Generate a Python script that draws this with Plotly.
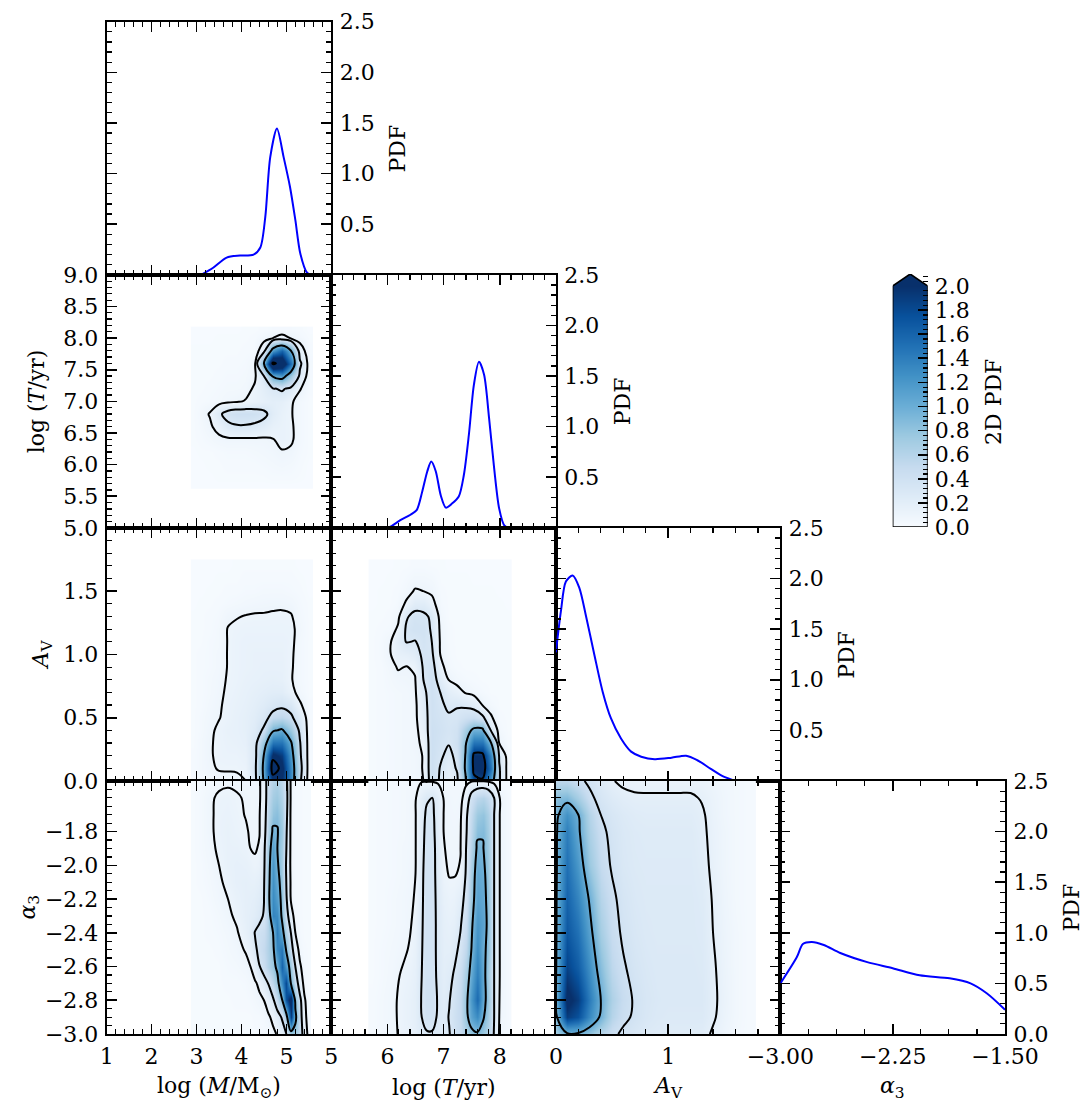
import plotly.graph_objects as go

W, H = 1091, 1106
FONT = "DejaVu Serif"

# ---------------- 1D marginal PDFs ----------------
LOGM_PDF_X = [3.10, 3.37, 3.67, 3.97, 4.27, 4.42, 4.53, 4.64, 4.79, 4.94, 5.08, 5.20, 5.31, 5.46, 5.55]
LOGM_PDF_Y = [0.0, 0.07, 0.17, 0.19, 0.20, 0.27, 0.57, 1.16, 1.445, 1.16, 0.87, 0.54, 0.21, 0.02, 0.0]

LOGT_PDF_X = [5.85, 6.02, 6.23, 6.41, 6.52, 6.62, 6.71, 6.78, 6.86, 6.95, 7.04, 7.15, 7.27, 7.36,
              7.45, 7.54, 7.63, 7.72, 7.81, 7.90, 7.99, 8.08, 8.17]
LOGT_PDF_Y = [0.0, 0.003, 0.076, 0.13, 0.175, 0.36, 0.56, 0.655, 0.56, 0.32, 0.20, 0.24, 0.31, 0.52,
              0.92, 1.415, 1.64, 1.515, 1.085, 0.59, 0.19, 0.026, 0.0]

AV_PDF_X = [0.0, 0.045, 0.089, 0.149, 0.208, 0.268, 0.342, 0.417, 0.49, 0.58, 0.67, 0.76, 0.88,
            1.03, 1.16, 1.26, 1.38, 1.50, 1.62, 1.78]
AV_PDF_Y = [1.27, 1.68, 1.97, 2.03, 1.91, 1.63, 1.25, 0.88, 0.62, 0.42, 0.29, 0.24, 0.215,
            0.23, 0.25, 0.205, 0.12, 0.04, 0.0, 0.0]

ALPHA_PDF_X = [-3.0, -2.89, -2.85, -2.79, -2.71, -2.60, -2.42, -2.25, -2.07, -1.87, -1.73, -1.62, -1.5]
ALPHA_PDF_Y = [0.50, 0.76, 0.89, 0.91, 0.88, 0.80, 0.71, 0.65, 0.58, 0.55, 0.50, 0.40, 0.24]

# ---------------- 2D PDF grids ----------------
# logT vs logM
MT_X = [2.95, 3.1, 3.3, 3.5, 3.7, 3.9, 4.1, 4.3, 4.5, 4.7, 4.9, 5.1, 5.3, 5.5]
MT_Y = [5.68, 5.8, 6.0, 6.2, 6.4, 6.6, 6.8, 7.0, 7.2, 7.4, 7.6, 7.8, 8.0, 8.12]
MT_Z = [
    [0.01, 0.01, 0.01, 0.01, 0.01, 0.01, 0.01, 0.01, 0.01, 0.01, 0.01, 0.01, 0.01, 0.01],
    [0.01, 0.01, 0.01, 0.02, 0.02, 0.02, 0.02, 0.02, 0.02, 0.03, 0.03, 0.03, 0.02, 0.01],
    [0.01, 0.01, 0.02, 0.02, 0.03, 0.03, 0.03, 0.03, 0.04, 0.05, 0.06, 0.05, 0.03, 0.01],
    [0.01, 0.02, 0.02, 0.03, 0.04, 0.04, 0.04, 0.05, 0.06, 0.07, 0.09, 0.08, 0.04, 0.02],
    [0.02, 0.03, 0.05, 0.07, 0.08, 0.08, 0.08, 0.08, 0.08, 0.095, 0.14, 0.12, 0.05, 0.02],
    [0.02, 0.04, 0.08, 0.15, 0.25, 0.28, 0.28, 0.26, 0.22, 0.16, 0.14, 0.12, 0.05, 0.02],
    [0.02, 0.05, 0.11, 0.26, 0.38, 0.42, 0.42, 0.40, 0.35, 0.22, 0.15, 0.11, 0.05, 0.02],
    [0.02, 0.03, 0.04, 0.05, 0.07, 0.085, 0.11, 0.14, 0.17, 0.20, 0.18, 0.12, 0.05, 0.02],
    [0.02, 0.02, 0.03, 0.04, 0.05, 0.05, 0.06, 0.12, 0.20, 0.28, 0.33, 0.25, 0.11, 0.03],
    [0.02, 0.02, 0.02, 0.03, 0.04, 0.04, 0.05, 0.08, 0.30, 1.05, 1.20, 0.75, 0.25, 0.04],
    [0.02, 0.02, 0.02, 0.02, 0.03, 0.03, 0.04, 0.07, 1.00, 2.70, 2.40, 1.50, 0.35, 0.05],
    [0.02, 0.02, 0.02, 0.02, 0.02, 0.02, 0.03, 0.03, 0.20, 1.20, 1.60, 1.00, 0.18, 0.03],
    [0.01, 0.01, 0.01, 0.02, 0.02, 0.02, 0.02, 0.03, 0.06, 0.10, 0.15, 0.09, 0.05, 0.02],
    [0.01, 0.01, 0.01, 0.01, 0.01, 0.01, 0.02, 0.02, 0.03, 0.04, 0.04, 0.04, 0.03, 0.01],
]
MT_LEVELS = [0.1, 0.3, 1.0, 2.6]

# A_V vs logM
MA_X = [2.95, 3.1, 3.3, 3.5, 3.7, 3.9, 4.1, 4.3, 4.5, 4.7, 4.9, 5.1, 5.3, 5.5]
MA_Y = [0.0, 0.1, 0.2, 0.3, 0.4, 0.5, 0.6, 0.7, 0.8, 0.9, 1.0, 1.1, 1.2, 1.3, 1.4, 1.5, 1.6, 1.7]
MA_Z = [
    [0.02, 0.03, 0.05, 0.06, 0.07, 0.08, 0.10, 0.30, 1.05, 2.00, 2.00, 1.30, 0.45, 0.02],
    [0.03, 0.05, 0.08, 0.11, 0.11, 0.11, 0.13, 0.32, 1.10, 2.40, 2.10, 1.30, 0.50, 0.03],
    [0.03, 0.05, 0.09, 0.12, 0.13, 0.13, 0.15, 0.30, 1.02, 2.10, 1.90, 1.20, 0.45, 0.03],
    [0.02, 0.05, 0.09, 0.12, 0.14, 0.15, 0.17, 0.30, 0.80, 1.50, 1.50, 1.05, 0.42, 0.03],
    [0.02, 0.04, 0.08, 0.12, 0.15, 0.16, 0.18, 0.25, 0.45, 0.95, 1.05, 0.75, 0.35, 0.03],
    [0.02, 0.04, 0.07, 0.095, 0.13, 0.16, 0.18, 0.22, 0.30, 0.50, 0.55, 0.45, 0.25, 0.03],
    [0.02, 0.03, 0.06, 0.085, 0.13, 0.15, 0.17, 0.20, 0.24, 0.30, 0.35, 0.30, 0.12, 0.03],
    [0.02, 0.03, 0.05, 0.075, 0.12, 0.14, 0.16, 0.18, 0.20, 0.22, 0.22, 0.14, 0.06, 0.02],
    [0.02, 0.03, 0.05, 0.07, 0.11, 0.13, 0.15, 0.16, 0.17, 0.18, 0.17, 0.11, 0.05, 0.02],
    [0.02, 0.03, 0.04, 0.06, 0.105, 0.13, 0.14, 0.15, 0.16, 0.16, 0.16, 0.115, 0.05, 0.02],
    [0.02, 0.03, 0.04, 0.06, 0.105, 0.13, 0.14, 0.15, 0.15, 0.15, 0.15, 0.12, 0.05, 0.02],
    [0.02, 0.02, 0.04, 0.05, 0.105, 0.13, 0.14, 0.14, 0.14, 0.14, 0.14, 0.13, 0.05, 0.02],
    [0.02, 0.02, 0.03, 0.05, 0.105, 0.12, 0.13, 0.13, 0.13, 0.13, 0.13, 0.13, 0.06, 0.02],
    [0.02, 0.02, 0.03, 0.04, 0.08, 0.095, 0.105, 0.11, 0.11, 0.115, 0.12, 0.11, 0.05, 0.02],
    [0.01, 0.02, 0.02, 0.03, 0.04, 0.05, 0.06, 0.07, 0.075, 0.08, 0.08, 0.07, 0.04, 0.02],
    [0.01, 0.01, 0.02, 0.02, 0.03, 0.03, 0.04, 0.04, 0.05, 0.05, 0.05, 0.04, 0.03, 0.01],
    [0.01, 0.01, 0.01, 0.02, 0.02, 0.02, 0.03, 0.03, 0.03, 0.03, 0.03, 0.03, 0.02, 0.01],
    [0.01, 0.01, 0.01, 0.01, 0.01, 0.02, 0.02, 0.02, 0.02, 0.02, 0.02, 0.02, 0.01, 0.01],
]
MA_LEVELS = [0.1, 0.4, 1.0, 2.2]

# A_V vs logT
TA_X = [5.74, 5.89, 6.04, 6.19, 6.34, 6.49, 6.64, 6.79, 6.94, 7.09, 7.24, 7.39, 7.54, 7.69, 7.84, 7.99, 8.14]
TA_Y = [0.0, 0.1, 0.2, 0.3, 0.4, 0.5, 0.6, 0.7, 0.8, 0.9, 1.0, 1.1, 1.2, 1.3, 1.4, 1.5, 1.6, 1.7]
TA_Z = [
    [0.02, 0.03, 0.04, 0.05, 0.06, 0.07, 0.10, 0.40, 0.28, 0.18, 0.25, 0.85, 1.80, 1.85, 1.20, 0.32, 0.06],
    [0.02, 0.03, 0.04, 0.05, 0.06, 0.07, 0.105, 0.42, 0.29, 0.20, 0.32, 0.95, 2.00, 2.10, 1.50, 0.32, 0.06],
    [0.02, 0.03, 0.04, 0.05, 0.06, 0.07, 0.105, 0.42, 0.33, 0.25, 0.35, 0.92, 2.00, 2.00, 1.35, 0.28, 0.05],
    [0.02, 0.03, 0.04, 0.05, 0.06, 0.075, 0.12, 0.42, 0.36, 0.31, 0.40, 0.85, 1.50, 1.50, 0.95, 0.10, 0.03],
    [0.02, 0.03, 0.04, 0.05, 0.06, 0.06, 0.17, 0.42, 0.38, 0.34, 0.38, 0.70, 1.00, 1.00, 0.30, 0.05, 0.02],
    [0.02, 0.03, 0.04, 0.05, 0.06, 0.07, 0.20, 0.40, 0.36, 0.32, 0.33, 0.40, 0.45, 0.35, 0.12, 0.03, 0.02],
    [0.02, 0.03, 0.04, 0.05, 0.06, 0.07, 0.22, 0.40, 0.33, 0.27, 0.29, 0.27, 0.22, 0.10, 0.05, 0.02, 0.02],
    [0.02, 0.03, 0.04, 0.05, 0.06, 0.08, 0.25, 0.40, 0.30, 0.20, 0.15, 0.09, 0.06, 0.04, 0.02, 0.02, 0.02],
    [0.02, 0.03, 0.05, 0.07, 0.08, 0.09, 0.30, 0.40, 0.22, 0.10, 0.06, 0.04, 0.03, 0.02, 0.02, 0.02, 0.02],
    [0.02, 0.03, 0.06, 0.11, 0.095, 0.12, 0.32, 0.38, 0.14, 0.05, 0.03, 0.02, 0.02, 0.02, 0.02, 0.02, 0.02],
    [0.02, 0.04, 0.09, 0.16, 0.18, 0.22, 0.34, 0.33, 0.10, 0.04, 0.02, 0.02, 0.02, 0.02, 0.02, 0.02, 0.02],
    [0.02, 0.04, 0.08, 0.20, 0.31, 0.29, 0.36, 0.30, 0.09, 0.03, 0.02, 0.02, 0.02, 0.02, 0.02, 0.02, 0.02],
    [0.02, 0.03, 0.04, 0.12, 0.33, 0.38, 0.38, 0.28, 0.08, 0.03, 0.02, 0.02, 0.02, 0.02, 0.02, 0.02, 0.02],
    [0.02, 0.02, 0.03, 0.07, 0.28, 0.36, 0.34, 0.27, 0.06, 0.02, 0.02, 0.02, 0.02, 0.02, 0.02, 0.02, 0.02],
    [0.01, 0.02, 0.02, 0.04, 0.12, 0.22, 0.22, 0.14, 0.04, 0.02, 0.02, 0.02, 0.02, 0.02, 0.02, 0.02, 0.01],
    [0.01, 0.02, 0.02, 0.03, 0.06, 0.11, 0.10, 0.08, 0.03, 0.02, 0.02, 0.02, 0.02, 0.02, 0.02, 0.01, 0.01],
    [0.01, 0.01, 0.02, 0.02, 0.04, 0.06, 0.06, 0.05, 0.02, 0.02, 0.02, 0.02, 0.01, 0.01, 0.01, 0.01, 0.01],
    [0.01, 0.01, 0.01, 0.02, 0.02, 0.03, 0.03, 0.02, 0.02, 0.01, 0.01, 0.01, 0.01, 0.01, 0.01, 0.01, 0.01],
]
TA_LEVELS = [0.1, 0.3, 0.9, 1.9]

# alpha3 vs logM
MS_X = [2.95, 3.1, 3.3, 3.5, 3.7, 3.9, 4.1, 4.2, 4.3, 4.4, 4.5, 4.6, 4.7, 4.8, 4.9, 5.0, 5.1, 5.2, 5.3, 5.4, 5.5]
MS_Y = [-3.0, -2.9, -2.8, -2.7, -2.6, -2.5, -2.4, -2.3, -2.2, -2.1, -2.0, -1.9, -1.8, -1.7, -1.6, -1.5]
MS_Z = [
    [0.02, 0.02, 0.02, 0.02, 0.02, 0.02, 0.02, 0.02, 0.02, 0.03, 0.03, 0.04, 0.07, 0.11, 0.20, 0.33, 0.70, 0.75, 0.50, 0.20, 0.05],
    [0.02, 0.02, 0.02, 0.02, 0.02, 0.02, 0.02, 0.02, 0.03, 0.03, 0.05, 0.08, 0.13, 0.22, 0.35, 0.70, 1.90, 1.00, 0.45, 0.15, 0.03],
    [0.02, 0.02, 0.02, 0.02, 0.02, 0.03, 0.03, 0.04, 0.05, 0.07, 0.10, 0.17, 0.28, 0.50, 0.85, 1.70, 2.20, 0.80, 0.40, 0.12, 0.03],
    [0.02, 0.02, 0.02, 0.02, 0.03, 0.03, 0.04, 0.06, 0.08, 0.13, 0.22, 0.34, 0.55, 0.75, 1.30, 1.80, 0.90, 0.50, 0.20, 0.06, 0.02],
    [0.02, 0.02, 0.02, 0.02, 0.04, 0.05, 0.07, 0.10, 0.18, 0.32, 0.45, 0.60, 0.75, 1.00, 1.60, 1.20, 0.70, 0.33, 0.12, 0.04, 0.02],
    [0.02, 0.02, 0.02, 0.03, 0.05, 0.07, 0.11, 0.18, 0.28, 0.40, 0.50, 0.62, 0.80, 1.30, 1.45, 0.85, 0.45, 0.18, 0.06, 0.03, 0.02],
    [0.02, 0.02, 0.03, 0.04, 0.06, 0.09, 0.16, 0.22, 0.34, 0.40, 0.45, 0.60, 0.88, 1.40, 1.05, 0.65, 0.33, 0.10, 0.04, 0.02, 0.02],
    [0.02, 0.02, 0.03, 0.05, 0.08, 0.12, 0.18, 0.20, 0.22, 0.27, 0.35, 0.60, 1.35, 1.30, 0.85, 0.45, 0.15, 0.06, 0.03, 0.02, 0.02],
    [0.02, 0.02, 0.04, 0.07, 0.10, 0.15, 0.18, 0.19, 0.20, 0.23, 0.32, 0.80, 1.30, 1.15, 0.80, 0.35, 0.09, 0.04, 0.03, 0.02, 0.02],
    [0.02, 0.03, 0.05, 0.08, 0.13, 0.17, 0.18, 0.17, 0.17, 0.19, 0.30, 0.78, 1.25, 1.05, 0.75, 0.32, 0.08, 0.04, 0.03, 0.02, 0.02],
    [0.02, 0.03, 0.06, 0.10, 0.15, 0.17, 0.16, 0.14, 0.12, 0.14, 0.27, 0.75, 1.20, 0.95, 0.70, 0.30, 0.07, 0.04, 0.03, 0.02, 0.02],
    [0.02, 0.04, 0.07, 0.12, 0.15, 0.15, 0.13, 0.10, 0.09, 0.11, 0.25, 0.70, 1.10, 0.90, 0.70, 0.33, 0.07, 0.04, 0.03, 0.02, 0.02],
    [0.02, 0.04, 0.08, 0.13, 0.15, 0.13, 0.11, 0.09, 0.085, 0.095, 0.20, 0.60, 0.95, 0.92, 0.75, 0.35, 0.07, 0.04, 0.03, 0.02, 0.02],
    [0.02, 0.04, 0.08, 0.13, 0.14, 0.12, 0.095, 0.085, 0.085, 0.095, 0.17, 0.55, 0.80, 0.85, 0.70, 0.38, 0.07, 0.04, 0.03, 0.02, 0.02],
    [0.02, 0.04, 0.08, 0.12, 0.13, 0.11, 0.09, 0.085, 0.085, 0.09, 0.15, 0.50, 0.70, 0.75, 0.62, 0.40, 0.08, 0.04, 0.03, 0.02, 0.02],
    [0.02, 0.03, 0.05, 0.07, 0.08, 0.08, 0.07, 0.07, 0.07, 0.08, 0.20, 0.45, 0.60, 0.65, 0.55, 0.38, 0.08, 0.04, 0.03, 0.02, 0.02],
]
MS_LEVELS = [0.1, 0.33, 0.9]

# alpha3 vs logT
TS_X = [5.74, 5.9, 6.1, 6.3, 6.4, 6.5, 6.6, 6.7, 6.8, 6.9, 7.0, 7.1, 7.2, 7.3, 7.4, 7.5, 7.6, 7.7, 7.8, 7.9, 8.0, 8.1, 8.17]
TS_Y = [-3.0, -2.9, -2.8, -2.65, -2.5, -2.35, -2.2, -2.05, -1.9, -1.8, -1.7, -1.6, -1.5]
TS_Z = [
    [0.03, 0.05, 0.08, 0.13, 0.15, 0.18, 0.24, 0.28, 0.28, 0.25, 0.24, 0.29, 0.38, 0.48, 0.65, 0.80, 0.85, 0.75, 0.60, 0.28, 0.07, 0.04, 0.03],
    [0.03, 0.05, 0.08, 0.14, 0.16, 0.19, 0.29, 0.38, 0.38, 0.27, 0.24, 0.31, 0.40, 0.50, 0.80, 1.10, 1.30, 0.95, 0.70, 0.30, 0.08, 0.05, 0.03],
    [0.03, 0.05, 0.08, 0.14, 0.16, 0.19, 0.30, 0.40, 0.40, 0.28, 0.22, 0.29, 0.38, 0.50, 0.80, 1.20, 1.55, 1.05, 0.75, 0.30, 0.09, 0.05, 0.03],
    [0.02, 0.04, 0.07, 0.12, 0.14, 0.17, 0.29, 0.38, 0.38, 0.26, 0.20, 0.24, 0.33, 0.45, 0.70, 1.05, 1.40, 1.05, 0.70, 0.30, 0.10, 0.05, 0.03],
    [0.02, 0.04, 0.06, 0.085, 0.11, 0.15, 0.28, 0.38, 0.38, 0.25, 0.19, 0.19, 0.25, 0.35, 0.55, 0.92, 1.30, 1.00, 0.80, 0.30, 0.10, 0.05, 0.03],
    [0.02, 0.03, 0.05, 0.07, 0.09, 0.13, 0.27, 0.38, 0.38, 0.25, 0.18, 0.16, 0.18, 0.28, 0.45, 0.85, 1.20, 1.10, 0.80, 0.30, 0.10, 0.05, 0.03],
    [0.02, 0.03, 0.05, 0.07, 0.08, 0.11, 0.26, 0.38, 0.38, 0.24, 0.16, 0.13, 0.14, 0.20, 0.38, 0.75, 1.10, 1.05, 0.78, 0.30, 0.10, 0.05, 0.03],
    [0.02, 0.03, 0.04, 0.06, 0.08, 0.10, 0.25, 0.38, 0.38, 0.22, 0.12, 0.095, 0.095, 0.11, 0.32, 0.70, 1.05, 1.00, 0.75, 0.30, 0.10, 0.05, 0.03],
    [0.02, 0.03, 0.04, 0.06, 0.07, 0.095, 0.24, 0.36, 0.37, 0.22, 0.105, 0.085, 0.08, 0.095, 0.30, 0.60, 0.95, 0.92, 0.72, 0.30, 0.10, 0.05, 0.03],
    [0.02, 0.03, 0.04, 0.05, 0.07, 0.095, 0.23, 0.35, 0.36, 0.20, 0.10, 0.08, 0.075, 0.09, 0.27, 0.55, 0.85, 0.88, 0.70, 0.30, 0.10, 0.05, 0.03],
    [0.02, 0.03, 0.04, 0.05, 0.07, 0.095, 0.22, 0.33, 0.34, 0.20, 0.10, 0.075, 0.07, 0.08, 0.25, 0.50, 0.75, 0.80, 0.65, 0.30, 0.10, 0.05, 0.03],
    [0.02, 0.03, 0.04, 0.05, 0.07, 0.09, 0.20, 0.28, 0.30, 0.20, 0.095, 0.07, 0.06, 0.07, 0.15, 0.40, 0.55, 0.60, 0.50, 0.30, 0.10, 0.05, 0.03],
    [0.02, 0.03, 0.04, 0.05, 0.06, 0.07, 0.09, 0.09, 0.09, 0.08, 0.06, 0.05, 0.05, 0.06, 0.08, 0.09, 0.09, 0.09, 0.08, 0.06, 0.04, 0.03, 0.02],
]
TS_LEVELS = [0.1, 0.3, 0.9]

# alpha3 vs A_V
AS_X = [0.0, 0.1, 0.2, 0.3, 0.4, 0.5, 0.6, 0.7, 0.8, 0.9, 1.0, 1.1, 1.2, 1.3, 1.4, 1.5, 1.6, 1.72]
AS_Y = [-3.0, -2.9, -2.8, -2.6, -2.4, -2.2, -2.0, -1.8, -1.7, -1.6, -1.5]
AS_Z = [
    [0.70, 0.95, 0.95, 0.80, 0.60, 0.45, 0.36, 0.31, 0.27, 0.25, 0.24, 0.24, 0.24, 0.23, 0.16, 0.10, 0.05, 0.03],
    [0.90, 1.90, 1.75, 1.30, 0.95, 0.60, 0.45, 0.37, 0.31, 0.28, 0.27, 0.27, 0.27, 0.27, 0.20, 0.12, 0.06, 0.03],
    [0.99, 2.10, 1.90, 1.40, 1.00, 0.65, 0.48, 0.38, 0.32, 0.29, 0.28, 0.28, 0.28, 0.28, 0.21, 0.13, 0.06, 0.03],
    [0.97, 1.85, 1.65, 1.25, 0.85, 0.55, 0.42, 0.34, 0.30, 0.28, 0.28, 0.28, 0.28, 0.27, 0.20, 0.12, 0.06, 0.03],
    [0.96, 1.70, 1.50, 1.10, 0.70, 0.48, 0.37, 0.31, 0.28, 0.27, 0.27, 0.27, 0.27, 0.26, 0.18, 0.11, 0.06, 0.03],
    [0.96, 1.60, 1.35, 0.97, 0.60, 0.44, 0.34, 0.29, 0.27, 0.27, 0.27, 0.27, 0.27, 0.25, 0.17, 0.10, 0.05, 0.03],
    [0.95, 1.50, 1.20, 0.75, 0.50, 0.38, 0.30, 0.27, 0.26, 0.26, 0.26, 0.26, 0.26, 0.23, 0.15, 0.09, 0.05, 0.03],
    [0.95, 1.40, 1.05, 0.65, 0.45, 0.35, 0.29, 0.26, 0.25, 0.25, 0.25, 0.25, 0.25, 0.21, 0.14, 0.09, 0.05, 0.03],
    [0.92, 1.25, 1.00, 0.60, 0.40, 0.32, 0.27, 0.24, 0.23, 0.23, 0.23, 0.23, 0.23, 0.20, 0.13, 0.08, 0.05, 0.03],
    [0.85, 0.90, 0.70, 0.45, 0.33, 0.26, 0.22, 0.20, 0.20, 0.20, 0.20, 0.20, 0.20, 0.17, 0.12, 0.08, 0.05, 0.03],
    [0.55, 0.55, 0.45, 0.36, 0.27, 0.19, 0.15, 0.14, 0.13, 0.13, 0.13, 0.13, 0.13, 0.12, 0.10, 0.07, 0.05, 0.03],
]
AS_LEVELS = [0.18, 0.4, 1.0]

# colour-bar end values
CBAR_VALUES = [0.0, 2.0]

# ---------------- ticks / labels ----------------
RANGES = {'M': [1, 6], 'T': [5, 9], 'A': [0, 2], 'a': [-3, -1.5], 'P': [0, 2.5]}
X_TICKS = {
    'M': ([1, 2, 3, 4, 5, 6], ['1', '2', '3', '4', '5', ''], 0.2, 1),
    'T': ([5, 6, 7, 8, 9], ['5', '6', '7', '8', ''], 0.2, 5),
    'A': ([0, 1, 2], ['0', '1', ''], 0.2, 0),
    'a': ([-3, -2.25, -1.5], ['\u22123.00', '\u22122.25', '\u22121.50'], 0.1875, -3),
}
Y_TICKS = {
    'T': ([5, 5.5, 6, 6.5, 7, 7.5, 8, 8.5, 9],
          ['5.0', '5.5', '6.0', '6.5', '7.0', '7.5', '8.0', '8.5', '9.0'], 0.1, 5),
    'A': ([0, 0.5, 1, 1.5, 2], ['0.0', '0.5', '1.0', '1.5', ''], 0.1, 0),
    'a': ([-3, -2.8, -2.6, -2.4, -2.2, -2.0, -1.8],
          ['\u22123.0', '\u22122.8', '\u22122.6', '\u22122.4', '\u22122.2', '\u22122.0', '\u22121.8'], 0.05, -3),
}
PDF_TICKVALS = [0, 0.5, 1, 1.5, 2, 2.5]
PDF_TEXT = ['', '0.5', '1.0', '1.5', '2.0', '2.5']
PDF_TEXT_LAST = ['0.0', '0.5', '1.0', '1.5', '2.0', '2.5']
CB_TICKVALS = [0, 0.2, 0.4, 0.6, 0.8, 1.0, 1.2, 1.4, 1.6, 1.8, 2.0]
CB_TEXT = ['0.0', '0.2', '0.4', '0.6', '0.8', '1.0', '1.2', '1.4', '1.6', '1.8', '2.0']

VARS = ['M', 'T', 'A', 'a']

BLUES = [[0.0, 'rgb(247,251,255)'], [0.125, 'rgb(222,235,247)'], [0.25, 'rgb(198,219,239)'],
         [0.375, 'rgb(158,202,225)'], [0.5, 'rgb(107,174,214)'], [0.625, 'rgb(66,146,198)'],
         [0.75, 'rgb(33,113,181)'], [0.875, 'rgb(8,81,156)'], [1.0, 'rgb(8,48,107)']]

# ---------------- layout geometry (pixels) ----------------
COL_PX = [(106.7, 331.3), (331.3, 555.9), (555.9, 780.4), (780.4, 1005.0)]
ROW_PX = [(21.7, 274.8), (274.8, 527.9), (527.9, 781.0), (781.0, 1034.0)]


def xd(c):
    return [COL_PX[c][0] / W, COL_PX[c][1] / W]


def yd(r):
    return [1 - ROW_PX[r][1] / H, 1 - ROW_PX[r][0] / H]


def axname(kind, i):
    return kind + ('' if i == 1 else str(i))


TICKFONT = dict(family=FONT, size=22, color='black')
COMMON = dict(showline=True, linecolor='black', linewidth=2, mirror='allticks', ticks='inside',
              ticklen=10, tickwidth=1.6, tickcolor='black', showgrid=False, zeroline=False,
              tickfont=TICKFONT, tickmode='array', fixedrange=True, automargin=False)
STANDOFF = 2


def minor(dt, t0):
    return dict(ticks='inside', ticklen=5, tickwidth=1.2, tickcolor='black', showgrid=False,
                tickmode='linear', dtick=dt, tick0=t0)


fig = go.Figure()
layout = {}

PANELS = []  # (idx, r, c)
idx = 0
for r in range(4):
    for c in range(r + 1):
        idx += 1
        PANELS.append((idx, r, c))

GRIDS = {
    (1, 0): (MT_X, MT_Y, MT_Z, MT_LEVELS),
    (2, 0): (MA_X, MA_Y, MA_Z, MA_LEVELS),
    (2, 1): (TA_X, TA_Y, TA_Z, TA_LEVELS),
    (3, 0): (MS_X, MS_Y, MS_Z, MS_LEVELS),
    (3, 1): (TS_X, TS_Y, TS_Z, TS_LEVELS),
    (3, 2): (AS_X, AS_Y, AS_Z, AS_LEVELS),
}
CURVES = {
    0: (LOGM_PDF_X, LOGM_PDF_Y),
    1: (LOGT_PDF_X, LOGT_PDF_Y),
    2: (AV_PDF_X, AV_PDF_Y),
    3: (ALPHA_PDF_X, ALPHA_PDF_Y),
}

for (i, r, c) in PANELS:
    xa, ya = axname('x', i), axname('y', i)
    xv = VARS[c]
    tv, tt, mdt, mt0 = X_TICKS[xv]
    layout[axname('xaxis', i)] = dict(COMMON, domain=xd(c), anchor=ya, range=RANGES[xv],
                                      tickvals=tv, ticktext=tt, showticklabels=(r == 3),
                                      minor=minor(mdt, mt0), ticklabelstandoff=STANDOFF)
    if r == c:
        texts = PDF_TEXT_LAST if r == 3 else PDF_TEXT
        layout[axname('yaxis', i)] = dict(COMMON, domain=yd(r), anchor=xa, range=RANGES['P'],
                                          side='right', tickvals=PDF_TICKVALS, ticktext=texts,
                                          showticklabels=True, minor=minor(0.1, 0),
                                          ticklabelstandoff=STANDOFF)
        cx, cy = CURVES[r]
        fig.add_trace(go.Scatter(x=cx, y=cy, xaxis=xa, yaxis=ya, mode='lines',
                                 line=dict(color='#0000ff', width=2, shape='spline', smoothing=0.8),
                                 hoverinfo='skip', cliponaxis=True))
    else:
        yv = VARS[r]
        tv, tt, mdt, mt0 = Y_TICKS[yv]
        layout[axname('yaxis', i)] = dict(COMMON, domain=yd(r), anchor=xa, range=RANGES[yv],
                                          tickvals=tv, ticktext=tt, showticklabels=(c == 0),
                                          minor=minor(mdt, mt0), ticklabelstandoff=STANDOFF)
        gx, gy, gz, levels = GRIDS[(r, c)]
        fig.add_trace(go.Heatmap(x=gx, y=gy, z=gz, xaxis=xa, yaxis=ya, colorscale=BLUES,
                                 zmin=0, zmax=2, zsmooth='best', showscale=False, hoverinfo='skip'))
        for L in levels:
            fig.add_trace(go.Contour(x=gx, y=gy, z=gz, xaxis=xa, yaxis=ya, autocontour=False,
                                     contours=dict(start=L, end=L, size=1, coloring='none'),
                                     line=dict(color='black', width=2, smoothing=1.0),
                                     showscale=False, hoverinfo='skip'))

# ---------------- colour bar ----------------
CB_X = [892.7 / W, 927.7 / W]
CB_BAR_Y = [1 - 527.0 / H, 1 - 286.0 / H]
CB_ARROW_Y = [1 - 286.0 / H, 1 - 274.0 / H]
layout['xaxis11'] = dict(domain=CB_X, anchor='y11', range=[0, 1], visible=False, fixedrange=True,
                         automargin=False)
layout['yaxis11'] = dict(domain=CB_BAR_Y, anchor='x11', range=[0, 2], side='right', showline=False,
                         showgrid=False, zeroline=False, ticks='inside', ticklen=10, tickwidth=1.6,
                         tickcolor='black', tickmode='array', tickvals=CB_TICKVALS, ticktext=CB_TEXT,
                         tickfont=TICKFONT, minor=minor(0.04, 0), ticklabelstandoff=6, fixedrange=True,
                         automargin=False)
layout['xaxis12'] = dict(domain=CB_X, anchor='y12', range=[0, 1], visible=False, fixedrange=True,
                         automargin=False)
layout['yaxis12'] = dict(domain=CB_ARROW_Y, anchor='x12', range=[2.0, 2.1], side='right', showline=False,
                         showgrid=False, zeroline=False, ticks='inside', ticklen=10, tickwidth=1.6,
                         tickcolor='black', tickmode='array', tickvals=[2.0], showticklabels=False,
                         minor=minor(0.04, 0), fixedrange=True, automargin=False)
fig.add_trace(go.Heatmap(x=[0, 1], y=CBAR_VALUES, z=[[CBAR_VALUES[0]] * 2, [CBAR_VALUES[1]] * 2],
                         xaxis='x11', yaxis='y11', colorscale=BLUES, zmin=0, zmax=2, zsmooth='best',
                         showscale=False, hoverinfo='skip'))

shapes = [
    dict(type='path', xref='x11', yref='y11', path='M 0,2 L 0,0 L 1,0 L 1,2',
         line=dict(color='black', width=1.6), layer='above'),
    dict(type='path', xref='x12', yref='y12', path='M 0,2 L 0.5,2.1 L 1,2 Z',
         fillcolor='rgb(8,48,107)', line=dict(width=0), layer='above'),
    dict(type='path', xref='x12', yref='y12', path='M 0,2 L 0.5,2.1 L 1,2',
         line=dict(color='black', width=1.6), layer='above'),
]

# ---------------- axis titles ----------------
TFONT = dict(family=FONT, size=22, color='black')
annotations = []
X_TITLES = ['log (<i>M</i>/M<sub>\u2299</sub>)', 'log (<i>T</i>/yr)', '<i>A</i><sub>V</sub>',
            '<i>\u03b1</i><sub>3</sub>']
for c, t in enumerate(X_TITLES):
    annotations.append(dict(text=t, x=(COL_PX[c][0] + COL_PX[c][1]) / 2 / W, y=1 - 1087 / H,
                            xref='paper', yref='paper', xanchor='center', yanchor='middle',
                            showarrow=False, font=TFONT))
Y_TITLES = {1: ('log (<i>T</i>/yr)', 36), 2: ('<i>A</i><sub>V</sub>', 42), 3: ('<i>\u03b1</i><sub>3</sub>', 29)}
for r, (t, px) in Y_TITLES.items():
    annotations.append(dict(text=t, x=px / W, y=1 - (ROW_PX[r][0] + ROW_PX[r][1]) / 2 / H,
                            xref='paper', yref='paper', xanchor='center', yanchor='middle',
                            textangle=-90, showarrow=False, font=TFONT))
for r in range(4):
    px = COL_PX[r][1] + 66
    annotations.append(dict(text='PDF', x=px / W, y=1 - (ROW_PX[r][0] + ROW_PX[r][1]) / 2 / H,
                            xref='paper', yref='paper', xanchor='center', yanchor='middle',
                            textangle=-90, showarrow=False, font=TFONT))
annotations.append(dict(text='2D PDF', x=993 / W, y=1 - 402 / H, xref='paper', yref='paper',
                        xanchor='center', yanchor='middle', textangle=-90, showarrow=False, font=TFONT))

fig.update_layout(**layout)
fig.update_layout(template='none', width=W, height=H, margin=dict(l=0, r=0, t=0, b=0),
                  showlegend=False, paper_bgcolor='white', plot_bgcolor='white', shapes=shapes,
                  annotations=annotations, font=dict(family=FONT, color='black'))
fig.write_html("out.html", config={'displayModeBar': False, 'staticPlot': True},
               post_script="document.body.style.margin='0';document.body.style.padding='0';"
                           "document.body.style.overflow='hidden';")
